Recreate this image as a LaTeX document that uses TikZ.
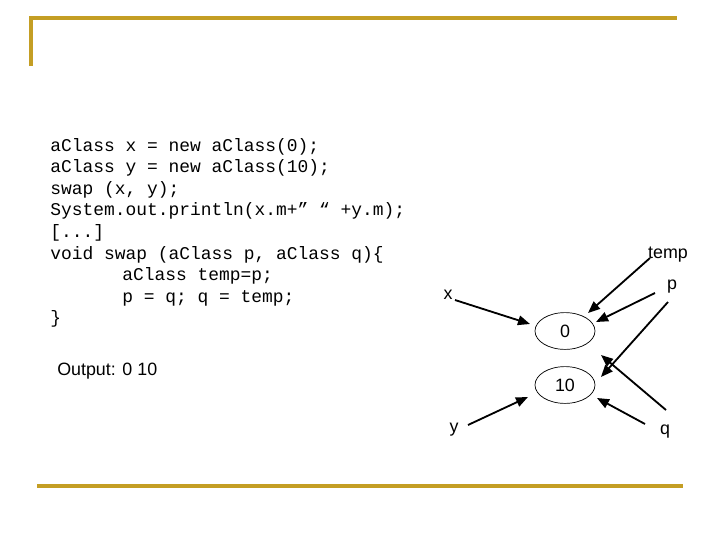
\documentclass[tikz,border=0pt]{standalone}
\usepackage{fontspec}
\setmainfont{Liberation Sans}
\newfontfamily\codefont{Liberation Mono}
\usetikzlibrary{arrows.meta,shapes.geometric}
\definecolor{gold}{RGB}{196,158,36}
\begin{document}
\begin{tikzpicture}[x=0.25mm,y=-0.25mm,
  code/.style={anchor=base west,inner sep=0pt,font=\codefont\fontsize{12.75}{15}\selectfont},
  lbl/.style={inner sep=0pt,font=\fontsize{12.7}{15}\selectfont},
  val/.style={ellipse,draw,line width=0.5pt,minimum width=15mm,minimum height=9.2mm,inner sep=0pt,font=\fontsize{12.7}{15}\selectfont},
  arr/.style={line width=1.3pt,-{Triangle[length=3mm,width=2.4mm]}},
  rule/.style={gold,line width=0.85mm}]
\useasboundingbox (0,0) rectangle (720,540);
% frame rules
\draw[rule] (31,66) -- (31,18) -- (677,18);
\draw[rule] (37,486) -- (683,486);
% code
\node[code] (c1) at (50,151) {aClass x = new aClass(0);};
\node[code] (c2) at (50,172.6) {aClass y = new aClass(10);};
\node[code] (c3) at (50,194.2) {swap (x, y);};
\node[code] (c4) at (50,215.8) {System.out.println(x.m+” “ +y.m);};
\node[code] (c5) at (50,237.4) {[...]};
\node[code] (c6) at (50,259) {void swap (aClass p, aClass q)\{};
\node[code] (c7) at (122,280.6) {aClass temp=p;};
\node[code] (c8) at (122,302.2) {p = q; q = temp;};
\node[code] (c9) at (50,323.8) {\}};
\node[lbl,anchor=base west] (out) at (57,375) {Output: 0 10};
% objects
\node[val] (zero) at (565,331) {0};
\node[val] (ten) at (565,385) {10};
% labels
\node[lbl] (x) at (448,295) {x};
\node[lbl] (temp) at (668,255) {temp};
\node[lbl] (p) at (672,287) {p};
\node[lbl] (y) at (454,430) {y};
\node[lbl] (q) at (665,432) {q};
% arrows
\draw[arr] ([shift={(7,5)}]x.center) -- ([shift={(-35,-7)}]zero.center);
\draw[arr] ([shift={(-18,3)}]temp.center) -- ([shift={(23,-18)}]zero.center);
\draw[arr] ([shift={(-17,6)}]p.center) -- ([shift={(31,-9)}]zero.center);
\draw[arr] ([shift={(-4,15)}]p.center) -- ([shift={(36,-8)}]ten.center);
\draw[arr] ([shift={(1,-22)}]q.center) -- ([shift={(36,24)}]zero.center);
\draw[arr] ([shift={(-20,-8)}]q.center) -- ([shift={(32,13)}]ten.center);
\draw[arr] ([shift={(14,-5)}]y.center) -- ([shift={(-37,12)}]ten.center);
\end{tikzpicture}
\end{document}
